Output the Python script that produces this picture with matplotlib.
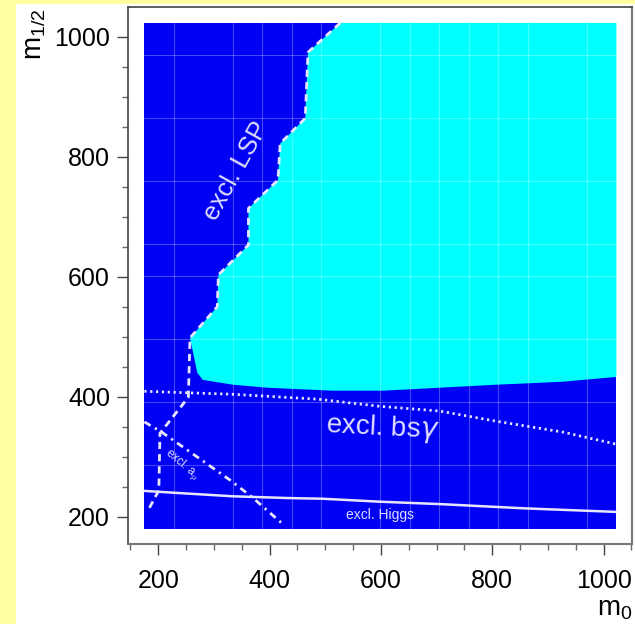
import matplotlib
matplotlib.use("Agg")
import matplotlib.pyplot as plt
from matplotlib.ticker import MultipleLocator
from matplotlib.patches import Rectangle, Polygon

plt.rcParams['font.family'] = ['Liberation Sans', 'DejaVu Sans']
plt.rcParams['mathtext.fontset'] = 'custom'
plt.rcParams['mathtext.rm'] = 'Liberation Sans'
plt.rcParams['mathtext.it'] = 'Liberation Sans:italic'

# ---- data (m0, m1/2 in GeV) ----
region_m0 = [175, 1023]
region_m12 = [180, 1023]

lsp_m0 = [527, 469, 464, 419, 415, 362, 362, 308, 306, 257, 254, 203, 201, 182]
lsp_m12 = [1023, 974, 864, 822, 761, 714, 653, 603, 550, 498, 399, 339, 244, 211]

cyan_bottom_m0 = [257, 270, 280, 334, 395, 514, 604, 706, 808, 927, 1023]
cyan_bottom_m12 = [498, 440, 428, 420, 415, 410, 410, 415, 420, 425, 433]

bsg_m0 = [175, 334, 485, 598, 706, 808, 927, 1022]
bsg_m12 = [409, 404, 396, 384, 376, 359, 341, 321]

higgs_m0 = [175, 227, 334, 437, 494, 598, 706, 856, 1022]
higgs_m12 = [243, 240, 234, 231, 230, 225, 221, 214, 208]

amu_m0 = [175, 206, 260, 329, 368, 422]
amu_m12 = [358, 341, 306, 261, 233, 189]

xticks = [200, 400, 600, 800, 1000]
yticks = [200, 400, 600, 800, 1000]

BLUE = '#0000F5'
CYAN = '#00FFFF'
LINE = '#E6E6FF'
TXT = '#DDDDFF'
YELLOW = '#FFFFA0'

fig = plt.figure(figsize=(6.35, 6.24), dpi=100)
fig.patch.set_facecolor('white')
# yellow page strips
fig.patches.append(Rectangle((0, 0), 16/635, 1, transform=fig.transFigure,
                             facecolor=YELLOW, edgecolor='none', zorder=-10))
fig.patches.append(Rectangle((0, 1-4/624), 1, 4/624, transform=fig.transFigure,
                             facecolor=YELLOW, edgecolor='none', zorder=-10))

ax = fig.add_axes([128/635, 80/624, 504/635, 537/624])
ax.set_xlim(145.6, 1051)
ax.set_ylim(154.5, 1049.5)

# excluded (blue) region
x0, x1 = region_m0
y0, y1 = region_m12
ax.add_patch(Rectangle((x0, y0), x1-x0, y1-y0, facecolor=BLUE, edgecolor='none', zorder=1))

# allowed (cyan) region: top edge, LSP boundary, bottom boundary, right edge
poly = [(x1, y1)]
poly += list(zip(lsp_m0[:10], lsp_m12[:10]))
poly += list(zip(cyan_bottom_m0[1:], cyan_bottom_m12[1:]))
ax.add_patch(Polygon(poly, closed=True, facecolor=CYAN, edgecolor='none', zorder=2))

# faint grid seams
nx = 16
for k in [1, 3, 4, 5, 6, 8, 9, 10, 11, 12, 13, 15]:
    xv = x0 + k*(x1-x0)/nx
    ax.plot([xv, xv], [y0, y1], color='white', alpha=0.28, lw=0.8, zorder=3)
for k in [1, 3, 5, 7, 8, 10, 12, 14]:
    yv = y1 - k*(y1-y0)/nx
    ax.plot([x0, x1], [yv, yv], color='white', alpha=0.28, lw=0.8, zorder=3)

# boundary lines
ax.plot(lsp_m0, lsp_m12, color=LINE, lw=2.0, linestyle=(0, (2.6, 1.8)), zorder=5)
ax.plot(bsg_m0, bsg_m12, color=LINE, lw=2.0, linestyle=(0, (0.8, 1.3)), zorder=5)
ax.plot(higgs_m0, higgs_m12, color=LINE, lw=1.8, linestyle='-', zorder=5)
ax.plot(amu_m0, amu_m12, color=LINE, lw=2.0, linestyle=(0, (2.6, 1.8, 0.8, 1.8)), zorder=5)

# labels of excluded regions
ax.text(340, 776, 'excl. LSP', color=TXT, fontsize=18.5, rotation=61,
        ha='center', va='center', zorder=6)
ax.text(603, 348, r'excl. bs$\gamma$', color=TXT, fontsize=20, rotation=-3,
        ha='center', va='center', zorder=6, math_fontfamily='dejavusans')
ax.text(598, 203, 'excl. Higgs', color=TXT, fontsize=10,
        ha='center', va='center', zorder=6)
ax.text(243, 287, r'excl. a$_\mu$', color=TXT, fontsize=8.5, rotation=-40,
        ha='center', va='center', zorder=6)

# ticks
ax.set_xticks(xticks)
ax.set_yticks(yticks)
ax.xaxis.set_minor_locator(MultipleLocator(50))
ax.yaxis.set_minor_locator(MultipleLocator(50))
ax.tick_params(which='major', direction='out', length=8, width=1, color='#444444',
               labelsize=18, labelcolor='black')
ax.tick_params(axis='x', which='major', pad=10)
ax.tick_params(axis='y', which='major', pad=5)
ax.tick_params(which='minor', direction='out', length=4, width=1, color='#666666')

for side in ['top', 'left']:
    ax.spines[side].set_linestyle((0, (1, 1)))
    ax.spines[side].set_color('#444444')
    ax.spines[side].set_linewidth(1.2)
for side in ['right', 'bottom']:
    ax.spines[side].set_color('#777777')
    ax.spines[side].set_linewidth(1.5)

fig.text(597/635, 9/624, r'm$_0$', fontsize=20, ha='left', va='baseline')
fig.text(35/635, 1-34/624, r'm$_{1/2}$', fontsize=20, rotation=90,
         ha='center', va='center')

fig.savefig('out.png', dpi=100, facecolor=fig.get_facecolor())
